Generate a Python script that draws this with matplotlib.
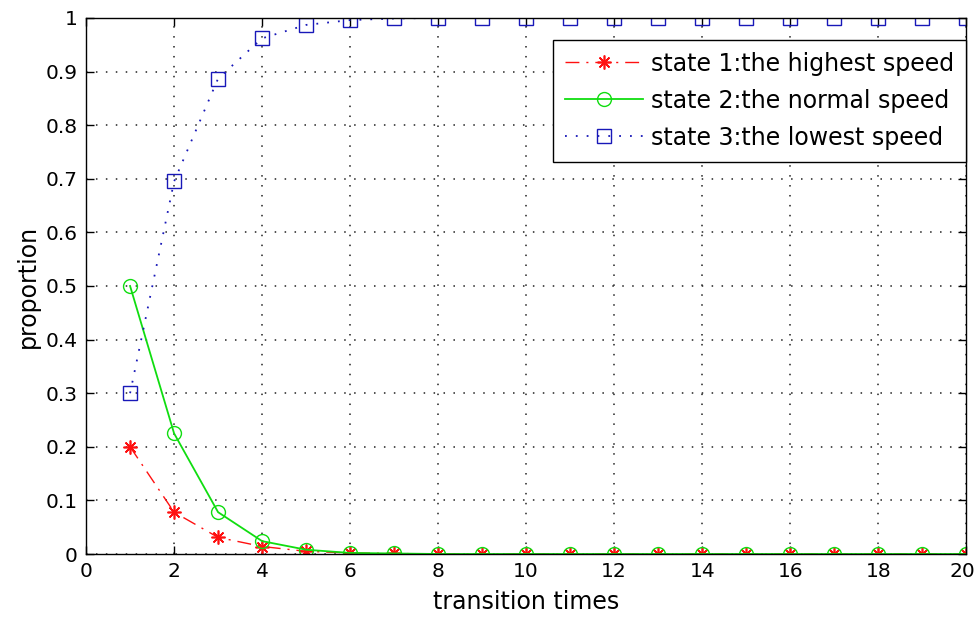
import matplotlib.pyplot as plt
import matplotlib.transforms as mtransforms
import numpy as np

plt.rcParams['font.family'] = ['DejaVu Sans']

# transition times 1..20
steps = list(range(1, 21))
state1 = [0.2, 0.078, 0.031, 0.014, 0.005, 0.002, 0.001, 0, 0, 0,
          0, 0, 0, 0, 0, 0, 0, 0, 0, 0]
state2 = [0.5, 0.225, 0.078, 0.024, 0.008, 0.002, 0.001, 0, 0, 0,
          0, 0, 0, 0, 0, 0, 0, 0, 0, 0]
state3 = [0.3, 0.695, 0.887, 0.962, 0.987, 0.996, 0.999, 1, 1, 1,
          1, 1, 1, 1, 1, 1, 1, 1, 1, 1]
labels = ['state 1:the highest speed', 'state 2:the normal speed',
          'state 3:the lowest speed']
yticklabels = ['0', '0.1', '0.2', '0.3', '0.4', '0.5', '0.6', '0.7',
               '0.8', '0.9', '1']

fig = plt.figure(figsize=(9.78, 6.19), dpi=100)
ax = fig.add_axes([0.088, 0.105, 0.900, 0.866])

ax.plot(steps, state1, color='#ff1010', linestyle=(0, (10, 5, 1.5, 5)),
        marker=(8, 2, 0), markersize=10, markeredgewidth=1.2,
        linewidth=1.0, label=labels[0])
ax.plot(steps, state2, '-', color='#10dd10', marker='o', markersize=10,
        markerfacecolor='none', linewidth=1.3, label=labels[1])
ax.plot(steps, state3, color='#1818b8', linestyle=(0, (1, 5)),
        marker='s', markersize=10, markerfacecolor='none',
        linewidth=1.3, label=labels[2])

ax.set_xlim(0, 20)
ax.set_ylim(0, 1)
ax.set_xticks(np.arange(0, 21, 2))
ax.set_yticks(np.arange(0, 1.01, 0.1))
ax.set_yticklabels(yticklabels)
ax.tick_params(direction='in', top=True, right=True, labelsize=14.5,
               length=6, width=1, pad=6)
ax.grid(True, linestyle=(0, (1, 5.5)), color='#222222', linewidth=1.1)
for s in ax.spines.values():
    s.set_linewidth(1.0)

# keep the "20" label inside the figure
last = ax.get_xticklabels()[-1]
last.set_transform(last.get_transform() +
                   mtransforms.ScaledTranslation(-4 / 100, 0, fig.dpi_scale_trans))

ax.set_xlabel('transition times', fontsize=17, labelpad=6)
ax.set_ylabel('proportion', fontsize=17, labelpad=4)

leg = ax.legend(loc='upper right', fontsize=17, fancybox=False,
                framealpha=1, edgecolor='black', borderaxespad=0.0,
                bbox_to_anchor=(1.0, 0.959), handlelength=3.3,
                handletextpad=0.35, borderpad=0.5, labelspacing=0.55)
leg.get_frame().set_linewidth(1.0)

fig.savefig('out.png', dpi=100)
